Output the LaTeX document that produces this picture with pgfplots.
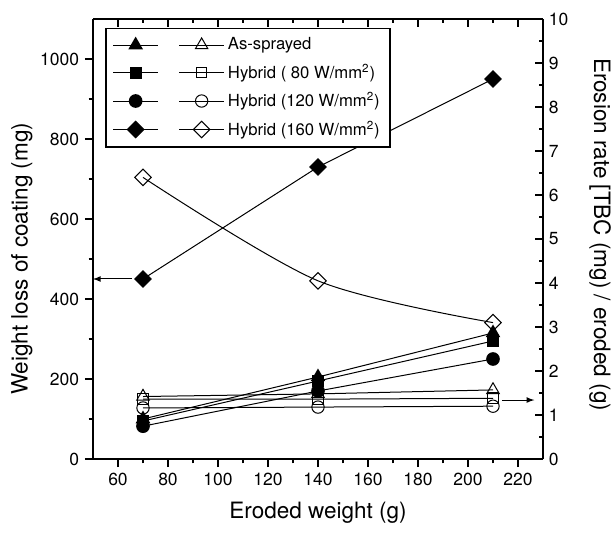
\documentclass[border=0pt]{standalone}
\usepackage{fontspec}
\setmainfont{TeX Gyre Heros}
\usepackage{pgfplots}
\usepackage{pgfplotstable}
\pgfplotsset{compat=1.18}

% weight loss of coating (mg), left axis
\pgfplotstableread{
x   tri  sq   circ dia
70  100  95   82   450
140 205  195  170  730
210 315  295  250  950
}\weightloss
% erosion rate, right axis
\pgfplotstableread{
x   tri  sq   circ dia
70  1.42 1.36 1.16 6.40
140 1.48 1.36 1.18 4.05
210 1.57 1.38 1.20 3.10
}\erosion

\pgfplotsset{
  base/.style={
    width=270pt, height=264pt, scale only axis,
    xmin=50, xmax=230,
    xtick={60,80,...,220}, minor x tick num=1,
    axis line style={line width=1pt},
    every tick/.style={line width=0.8pt, black},
    major tick length=4.8pt, minor tick length=2.6pt,
    tick label style={font=\fontsize{10.5}{12}\selectfont},
    label style={font=\fontsize{13.5}{15}\selectfont},
    /pgf/number format/assume math mode=true,
    /pgf/number format/1000 sep={},
    clip=false,
  },
  pl/.style={black, line width=0.6pt, mark options={solid, line width=0.8pt}},
  legend image code/.code={
    \draw[mark repeat=2, mark phase=2, #1]
      plot coordinates {(0pt,0pt) (13.5pt,0pt) (27pt,0pt)};},
}

\begin{document}
\begin{tikzpicture}
\begin{axis}[base, name=ax,
    axis x line*=bottom, axis y line*=left,
    ymin=0, ymax=1100, ytick={0,200,...,1000}, minor y tick num=1,
    tick align=outside,
    xlabel={Eroded weight (g)},
    ylabel={Weight loss of coating (mg)},
    xlabel style={yshift=-3pt},
    ylabel style={at={(axis description cs:-0.158,0.455)}, anchor=center},
  ]
  \addplot[pl, mark=triangle*, mark size=4.3pt] table[y=tri] {\weightloss};
  \addplot[pl, mark=square*, mark size=3.2pt] table[y=sq] {\weightloss};
  \addplot[pl, mark=*, mark size=3.7pt] table[y=circ] {\weightloss};
  \addplot[pl, mark=square*, mark size=3.5pt, mark options={rotate=45}] table[y=dia] {\weightloss};
  \draw[-latex, line width=0.6pt] (axis cs:65.5,450) -- (axis cs:50,450);
\end{axis}

\begin{axis}[base,
    axis x line*=top, axis y line*=right,
    ymin=0, ymax=10, ytick={0,1,...,10}, minor y tick num=1,
    tick align=inside, xticklabels={},
    ylabel={Erosion rate [TBC (mg) / eroded (g)},
    ylabel style={at={(axis description cs:1.127,0.51)}, anchor=center, rotate=180},
    legend columns=2,
    legend cell align=left,
    legend style={at={(0.027,0.98)}, anchor=north west, draw=black, line width=1pt,
      font=\fontsize{10}{11}\selectfont, inner xsep=4pt, inner ysep=3.5pt,
      row sep=3pt,
      /tikz/every even column/.append style={column sep=8pt}},
  ]
  \addlegendimage{pl, mark=triangle*, mark size=4.3pt}\addlegendentry{}
  \addplot[pl, mark=triangle, mark size=4.3pt, mark options={fill=white}] table[y=tri] {\erosion};
  \addlegendentry{As-sprayed}
  \addlegendimage{pl, mark=square*, mark size=3.2pt}\addlegendentry{}
  \addplot[pl, mark=square, mark size=3.2pt, mark options={fill=white}] table[y=sq] {\erosion};
  \addlegendentry{Hybrid ( 80 W/mm\textsuperscript{2})}
  \addlegendimage{pl, mark=*, mark size=3.7pt}\addlegendentry{}
  \addplot[pl, mark=o, mark size=3.7pt, mark options={fill=white}] table[y=circ] {\erosion};
  \addlegendentry{Hybrid (120 W/mm\textsuperscript{2})}
  \addlegendimage{pl, mark=square*, mark size=3.5pt, mark options={rotate=45}}\addlegendentry{}
  \addplot[pl, smooth, mark=square, mark size=3.5pt, mark options={rotate=45, fill=white}] table[y=dia] {\erosion};
  \addlegendentry{Hybrid (160 W/mm\textsuperscript{2})}
  \draw[-latex, line width=0.6pt] (axis cs:213.5,1.34) -- (axis cs:226.5,1.34);
\end{axis}
\pgfresetboundingbox
\path (ax.south west) ++(-55.8pt,-46.2pt) rectangle ++(369.6pt,321.6pt);
\end{tikzpicture}
\end{document}
